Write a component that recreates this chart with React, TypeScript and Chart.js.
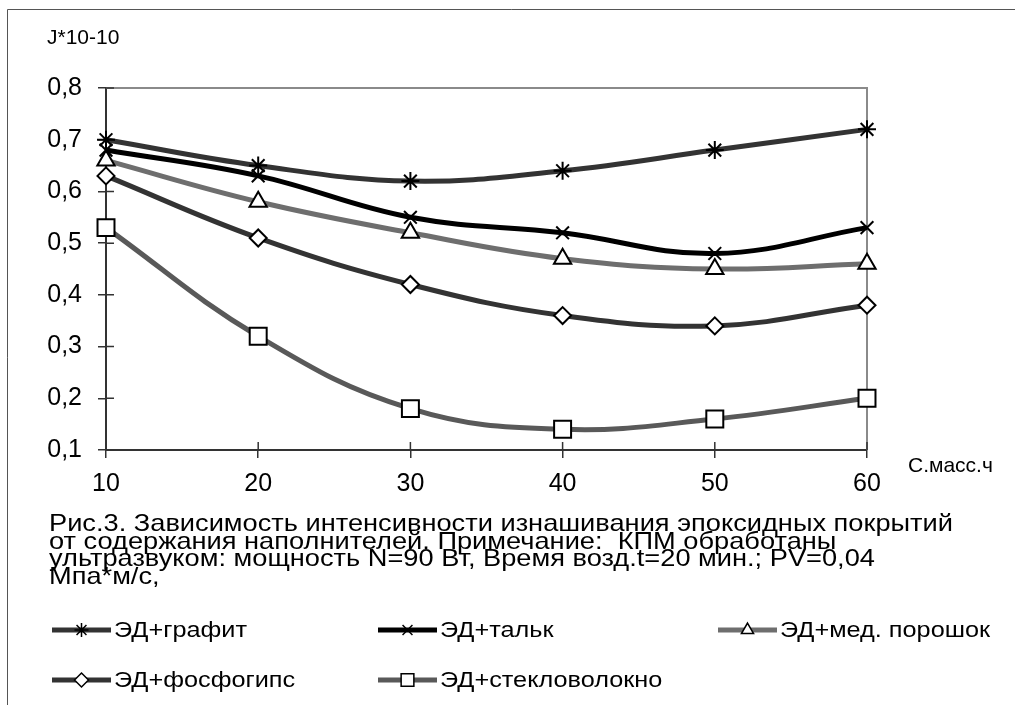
import React, { useEffect, useRef } from 'react';
import { Chart, registerables } from 'chart.js';

Chart.register(...registerables);

const categories = ['10', '20', '30', '40', '50', '60'];
const graphite = [0.70, 0.65, 0.62, 0.64, 0.68, 0.72];
const talc = [0.68, 0.63, 0.55, 0.52, 0.48, 0.53];
const copper = [0.66, 0.58, 0.52, 0.47, 0.45, 0.46];
const phosphogypsum = [0.63, 0.51, 0.42, 0.36, 0.34, 0.38];
const fiberglass = [0.53, 0.32, 0.18, 0.14, 0.16, 0.20];

const seriesNames = ['ЭД+графит', 'ЭД+тальк', 'ЭД+мед. порошок', 'ЭД+фосфогипс', 'ЭД+стекловолокно'];
const yTitle = 'J*10-10';
const xTitle = 'С.масс.ч';
const captionLines = [
  'Рис.3. Зависимость интенсивности изнашивания эпоксидных покрытий',
  'от содержания наполнителей. Примечание:  КПМ обработаны',
  'ультразвуком: мощность N=90 Вт, Время возд.t=20 мин.; PV=0,04',
  'Мпа*м/с,',
];

const FONT = '"Liberation Sans", Arial, sans-serif';

function drawMarker(ctx: CanvasRenderingContext2D, style: string, x: number, y: number, r: number) {
  ctx.save();
  ctx.strokeStyle = '#000';
  ctx.fillStyle = '#fff';
  ctx.lineWidth = 1.5;
  ctx.beginPath();
  if (style === 'star') {
    for (let k = 0; k < 4; k++) {
      const a = (k * Math.PI) / 4;
      ctx.moveTo(x - Math.cos(a) * r, y - Math.sin(a) * r);
      ctx.lineTo(x + Math.cos(a) * r, y + Math.sin(a) * r);
    }
    ctx.stroke();
  } else if (style === 'crossRot') {
    const d = r * Math.SQRT1_2;
    ctx.moveTo(x - d, y - d);
    ctx.lineTo(x + d, y + d);
    ctx.moveTo(x - d, y + d);
    ctx.lineTo(x + d, y - d);
    ctx.stroke();
  } else if (style === 'triangle') {
    ctx.moveTo(x, y - r);
    ctx.lineTo(x + r * 0.866, y + r * 0.5);
    ctx.lineTo(x - r * 0.866, y + r * 0.5);
    ctx.closePath();
    ctx.fill();
    ctx.stroke();
  } else if (style === 'rectRot') {
    ctx.moveTo(x - r, y);
    ctx.lineTo(x, y - r);
    ctx.lineTo(x + r, y);
    ctx.lineTo(x, y + r);
    ctx.closePath();
    ctx.fill();
    ctx.stroke();
  } else {
    const h = r * Math.SQRT1_2;
    ctx.rect(x - h, y - h, 2 * h, 2 * h);
    ctx.fill();
    ctx.stroke();
  }
  ctx.restore();
}

function stretchedText(ctx: CanvasRenderingContext2D, text: string, x: number, y: number, sx: number) {
  ctx.save();
  ctx.translate(x, y);
  ctx.scale(sx, 1);
  ctx.fillText(text, 0, 0);
  ctx.restore();
}

const decorPlugin = {
  id: 'decor',
  beforeDraw(chart: any) {
    const ctx = chart.ctx;
    ctx.save();
    ctx.fillStyle = '#fff';
    ctx.fillRect(0, 0, chart.width, chart.height);
    ctx.strokeStyle = '#555';
    ctx.lineWidth = 1;
    ctx.beginPath();
    ctx.moveTo(7.5, chart.height);
    ctx.lineTo(7.5, 9.5);
    ctx.lineTo(chart.width, 9.5);
    ctx.stroke();
    ctx.restore();
  },
  beforeDatasetsDraw(chart: any) {
    const ctx = chart.ctx;
    const a = chart.chartArea;
    ctx.save();
    ctx.strokeStyle = '#8a8a8a';
    ctx.lineWidth = 2;
    ctx.beginPath();
    ctx.moveTo(a.left, a.top);
    ctx.lineTo(a.right, a.top);
    ctx.lineTo(a.right, a.bottom);
    ctx.stroke();
    ctx.strokeStyle = '#333';
    ctx.lineWidth = 1.5;
    const ys = chart.scales.y;
    ctx.beginPath();
    ys.ticks.forEach((t: any) => {
      const py = ys.getPixelForValue(t.value);
      ctx.moveTo(a.left, py);
      ctx.lineTo(a.left + 8, py);
    });
    const xs = chart.scales.x;
    categories.forEach((_, i) => {
      const px = xs.getPixelForValue(i);
      ctx.moveTo(px, a.bottom);
      ctx.lineTo(px, a.bottom - 8);
    });
    ctx.stroke();
    ctx.restore();
  },
  afterDraw(chart: any) {
    const ctx = chart.ctx;
    ctx.save();
    ctx.fillStyle = '#000';
    ctx.textBaseline = 'alphabetic';
    ctx.textAlign = 'left';
    ctx.font = `21px ${FONT}`;
    ctx.fillText(yTitle, 47, 44);
    ctx.fillText(xTitle, 908, 472);
    ctx.font = `24px ${FONT}`;
    const capSx = 904 / ctx.measureText(captionLines[0]).width;
    captionLines.forEach((line, i) => {
      stretchedText(ctx, line, 49, 531 + i * 17.5, capSx);
    });
    const colX = [52, 378, 718];
    const rowY = [630, 680];
    ctx.font = `22px ${FONT}`;
    const legSx = 133 / ctx.measureText(seriesNames[0]).width;
    ctx.textBaseline = 'middle';
    chart.data.datasets.forEach((ds: any, i: number) => {
      const x = colX[i % 3];
      const y = rowY[Math.floor(i / 3)];
      ctx.strokeStyle = ds.borderColor;
      ctx.lineWidth = 5;
      ctx.beginPath();
      ctx.moveTo(x, y);
      ctx.lineTo(x + 59, y);
      ctx.stroke();
      drawMarker(ctx, ds.pointStyle, x + 29.5, y, ds.pointStyle === 'rect' ? 9 : 7);
      ctx.fillStyle = '#000';
      stretchedText(ctx, ds.label, x + 62, y + 1, legSx);
    });
    ctx.restore();
  },
};

export default function App() {
  const ref = useRef<HTMLCanvasElement>(null);
  useEffect(() => {
    if (!ref.current) return;
    const mk = (label: string, data: number[], color: string, style: string, r: number) => ({
      label,
      data,
      borderColor: color,
      backgroundColor: color,
      borderWidth: 5,
      tension: 0.4,
      pointStyle: style,
      pointRadius: r,
      pointHoverRadius: r,
      pointBorderColor: '#000',
      pointBackgroundColor: '#fff',
      pointBorderWidth: 2,
      clip: false,
    });
    const chart = new Chart(ref.current, {
      type: 'line',
      data: {
        labels: categories,
        datasets: [
          mk(seriesNames[0], graphite, '#333333', 'star', 9),
          mk(seriesNames[1], talc, '#000000', 'crossRot', 9),
          mk(seriesNames[2], copper, '#6e6e6e', 'triangle', 10),
          mk(seriesNames[3], phosphogypsum, '#333333', 'rectRot', 8.5),
          mk(seriesNames[4], fiberglass, '#595959', 'rect', 12),
        ],
      },
      options: {
        responsive: false,
        animation: false,
        events: [],
        layout: { padding: { top: 88, right: 148, left: 0, bottom: 0 } },
        plugins: { legend: { display: false }, title: { display: false }, tooltip: { enabled: false } },
        scales: {
          x: {
            type: 'category',
            offset: false,
            grid: { drawOnChartArea: false, tickLength: 8, color: '#333', lineWidth: 1.5 },
            border: { display: true, color: '#333', width: 2 },
            ticks: { color: '#000', font: { family: FONT, size: 25 }, padding: 11, maxRotation: 0 },
            afterFit: (s: any) => { s.height = 255; },
          },
          y: {
            min: 0.1,
            max: 0.8,
            grid: { drawOnChartArea: false, tickLength: 8, color: '#333', lineWidth: 1.5 },
            border: { display: true, color: '#333', width: 2 },
            ticks: {
              stepSize: 0.1,
              color: '#000',
              font: { family: FONT, size: 25 },
              padding: 16,
              callback: (v: any) => Number(v).toFixed(1).replace('.', ','),
            },
            afterFit: (s: any) => { s.width = 106; },
          },
        },
      },
      plugins: [decorPlugin],
    });
    return () => chart.destroy();
  }, []);
  return (
    <div style={{ position: 'absolute', left: 0, top: 0, width: 1015, height: 705, background: '#fff' }}>
      <canvas ref={ref} width={1015} height={705} style={{ display: 'block' }} />
    </div>
  );
}
